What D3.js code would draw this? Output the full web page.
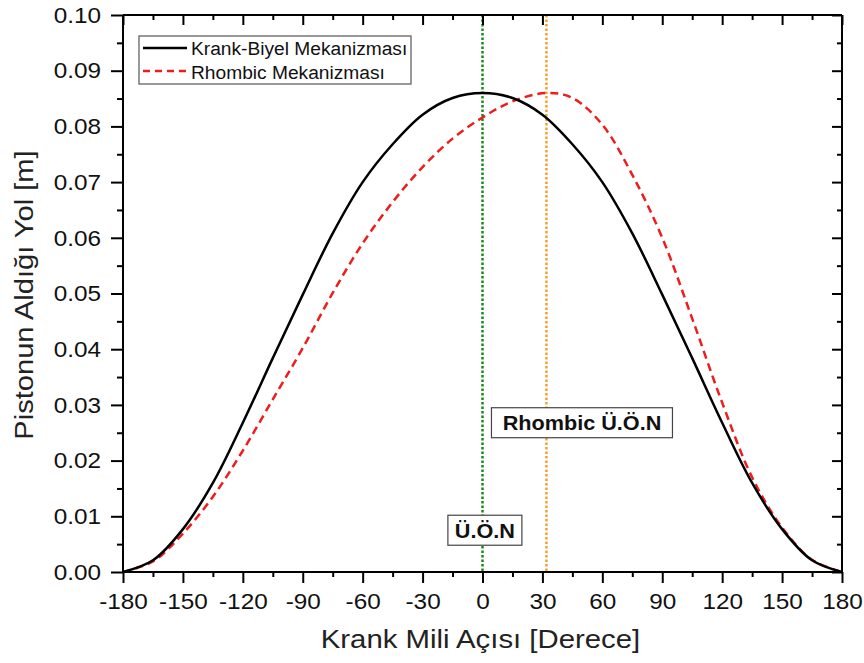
<!DOCTYPE html>
<html>
<head>
<meta charset="utf-8">
<script src="https://cdn.jsdelivr.net/npm/d3@7"></script>
<style>
body { margin: 0; background: #fff; }
svg text { font-family: "Liberation Sans", Arial, sans-serif; }
</style>
</head>
<body>
<div id="chart"></div>
<script>
// crank angle (degrees) grid
var angles = [-180, -165, -150, -135, -120, -105, -90, -75, -60, -45, -30, -15, 0,
              15, 30, 45, 60, 75, 90, 105, 120, 135, 150, 165, 180];
// piston stroke [m]
var krankBiyel = [0, 0.0021, 0.0077, 0.0160, 0.0268, 0.0384, 0.0498, 0.0608, 0.0700, 0.0768, 0.0821, 0.0851, 0.0860,
                  0.0851, 0.0821, 0.0768, 0.0700, 0.0608, 0.0498, 0.0384, 0.0268, 0.0160, 0.0077, 0.0021, 0];
var rhombicAngles = [-180, -165, -150, -135, -120, -105, -90, -75, -60, -45, -30, -15, 0,
                     15, 32, 45, 60, 75, 90, 105, 120, 135, 150, 165, 180];
var rhombic = [0, 0.0019, 0.0069, 0.0135, 0.0218, 0.0310, 0.0402, 0.0501, 0.0590, 0.0664, 0.0727, 0.0778, 0.0816,
               0.0845, 0.0860, 0.0851, 0.0803, 0.0713, 0.0600, 0.0455, 0.0304, 0.0170, 0.0080, 0.0022, 0];

var xTicks = [-180, -150, -120, -90, -60, -30, 0, 30, 60, 90, 120, 150, 180];
var yTicks = [0, 0.01, 0.02, 0.03, 0.04, 0.05, 0.06, 0.07, 0.08, 0.09, 0.10];
var uonAngle = 0;
var rhombicUonAngle = 32;
var legendNames = ["Krank-Biyel Mekanizması", "Rhombic Mekanizması"];

var W = 864, H = 663;
var margin = {top: 15, right: 22, bottom: 91, left: 123};
var w = W - margin.left - margin.right;
var h = H - margin.top - margin.bottom;

var svg = d3.select("#chart").append("svg").attr("width", W).attr("height", H);
var g = svg.append("g").attr("transform", "translate(" + margin.left + "," + margin.top + ")");

var x = d3.scaleLinear().domain([-180, 180]).range([0, w]);
var y = d3.scaleLinear().domain([0, 0.10]).range([h, 0]);

var minorX = d3.range(-165, 180, 30);
var minorY = d3.range(0.005, 0.1, 0.01);

// the lettering in the original is a bit wider than Arial
function widen(sel, k){
	sel.each(function(){
		var len = this.getComputedTextLength();
		d3.select(this).attr("textLength", len * k).attr("lengthAdjust", "spacingAndGlyphs");
	});
}

// guide lines
g.append("line").attr("x1", x(uonAngle)).attr("x2", x(uonAngle)).attr("y1", 0).attr("y2", h)
	.attr("stroke", "#1a8a1a").attr("stroke-width", 2.5).attr("stroke-dasharray", "2.5,2");
g.append("line").attr("x1", x(rhombicUonAngle)).attr("x2", x(rhombicUonAngle)).attr("y1", 0).attr("y2", h)
	.attr("stroke", "#f7a030").attr("stroke-width", 2.5).attr("stroke-dasharray", "2.5,2");

// curves
var line1 = d3.line().x(function(d, i){ return x(angles[i]); }).y(function(d){ return y(d); })
	.curve(d3.curveCatmullRom);
var line2 = d3.line().x(function(d, i){ return x(rhombicAngles[i]); }).y(function(d){ return y(d); })
	.curve(d3.curveCatmullRom);

g.append("path").datum(rhombic).attr("d", line2).attr("fill", "none")
	.attr("stroke", "#ee1c1c").attr("stroke-width", 2.5).attr("stroke-dasharray", "8,5");
g.append("path").datum(krankBiyel).attr("d", line1).attr("fill", "none")
	.attr("stroke", "#000").attr("stroke-width", 2.5);

// axes
var bottomAx = g.append("g").attr("transform", "translate(0," + h + ")")
	.call(d3.axisBottom(x).tickValues(xTicks).tickSize(11).tickPadding(10).tickFormat(function(d){ return String(d); }));
bottomAx.append("g").call(d3.axisBottom(x).tickValues(minorX).tickSize(5).tickFormat(""));
var leftAx = g.append("g")
	.call(d3.axisLeft(y).tickValues(yTicks).tickSize(12).tickPadding(10).tickFormat(d3.format(".2f")));
leftAx.append("g").call(d3.axisLeft(y).tickValues(minorY).tickSize(6).tickFormat(""));
var topAx = g.append("g")
	.call(d3.axisBottom(x).tickValues(xTicks).tickSize(10).tickFormat(""));
topAx.append("g").call(d3.axisBottom(x).tickValues(minorX).tickSize(5).tickFormat(""));
var rightAx = g.append("g").attr("transform", "translate(" + w + ",0)")
	.call(d3.axisLeft(y).tickValues(yTicks).tickSize(10).tickFormat(""));
rightAx.append("g").call(d3.axisLeft(y).tickValues(minorY).tickSize(5).tickFormat(""));

g.selectAll(".domain").attr("stroke", "#000").attr("stroke-width", 2);
g.selectAll(".tick line").attr("stroke", "#000").attr("stroke-width", 2);
g.selectAll(".tick text").attr("font-size", "22.5px").attr("fill", "#111")
	.style("font-family", "'Liberation Sans', Arial, sans-serif");
widen(g.selectAll(".tick text"), 1.08);
topAx.selectAll(".domain").attr("d", "M0,0H" + w);
rightAx.selectAll(".domain").attr("d", "M0,0V" + h);
bottomAx.selectAll(".domain").attr("d", "M0,0H" + w);
leftAx.selectAll(".domain").attr("d", "M0,0V" + h);

// axis titles
var xTitle = svg.append("text").attr("x", 480.5).attr("y", 648).attr("text-anchor", "middle")
	.attr("font-size", "25.5px").attr("fill", "#222").text("Krank Mili Açısı [Derece]");
var yTitle = svg.append("text").attr("transform", "translate(33,295) rotate(-90)")
	.attr("text-anchor", "middle").attr("font-size", "25.5px").attr("fill", "#222").text("Pistonun Aldığı Yol [m]");
widen(xTitle, 1.15);
widen(yTitle, 1.14);

// legend
var lg = svg.append("g").attr("transform", "translate(139,36)");
lg.append("rect").attr("width", 272).attr("height", 48).attr("fill", "#fff")
	.attr("stroke", "#555").attr("stroke-width", 1.2);
lg.append("line").attr("x1", 4).attr("x2", 48).attr("y1", 12).attr("y2", 12)
	.attr("stroke", "#000").attr("stroke-width", 2.5);
lg.append("line").attr("x1", 4).attr("x2", 48).attr("y1", 35).attr("y2", 35)
	.attr("stroke", "#ee1c1c").attr("stroke-width", 2.5).attr("stroke-dasharray", "7,5");
var legText = lg.selectAll("text.leg").data(legendNames).enter().append("text").attr("class", "leg")
	.attr("x", 52).attr("y", function(d, i){ return 19 + i * 23.5; })
	.attr("font-size", "18px").attr("fill", "#111").text(function(d){ return d; });
widen(legText, 1.065);

// annotation boxes
function label(txt, cx, cy, bw){
	var a = g.append("g").attr("transform", "translate(" + x(cx) + "," + y(cy) + ")");
	a.append("rect").attr("x", -bw / 2).attr("y", -15).attr("width", bw).attr("height", 30)
		.attr("fill", "#fff").attr("stroke", "#444").attr("stroke-width", 1.2);
	var t = a.append("text").attr("y", 7.5).attr("text-anchor", "middle").attr("font-size", "21px")
		.attr("font-weight", "bold").attr("fill", "#111").text(txt);
	widen(t, 1.03);
}
label("Rhombic Ü.Ö.N", 49.8, 0.0268, 181);
label("Ü.Ö.N", 1.2, 0.0075, 74);
</script>
</body>
</html>
